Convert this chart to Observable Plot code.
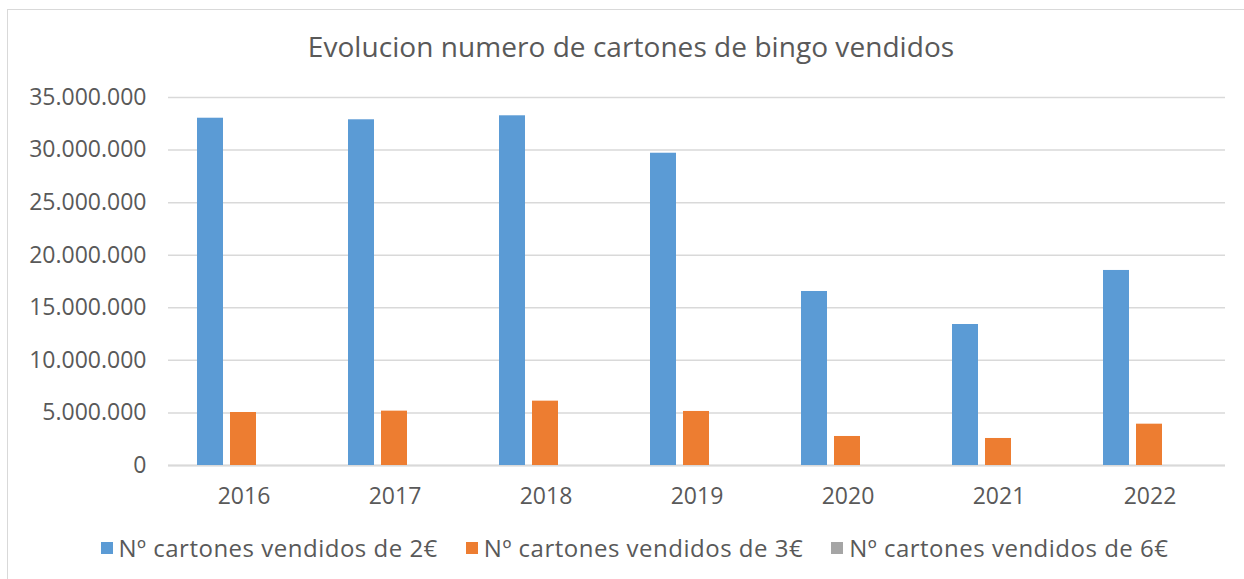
<!DOCTYPE html>
<html>
<head>
<meta charset="utf-8">
<script src="https://cdn.jsdelivr.net/npm/d3@7"></script>
<script src="https://cdn.jsdelivr.net/npm/@observablehq/plot@0.6"></script>
<style>
  html, body { margin: 0; padding: 0; background: #fff; width: 1244px; height: 579px; overflow: hidden; }
  body { font-family: "Open Sans", sans-serif; color: #595959; position: relative; }
  #frame { position: absolute; left: 7px; top: 9px; width: 1260px; height: 600px;
           border-left: 1.5px solid #d9d9d9; border-top: 1.5px solid #d9d9d9; }
  #title { position: absolute; left: 8px; width: 1246px; top: 32px; text-align: center;
           font-size: 28px; line-height: 28px; white-space: nowrap; letter-spacing: 0.05px; }
  #chart { position: absolute; left: 0; top: 70px; }
  #legend { position: absolute; left: 0; width: 1269px; top: 536px; display: flex; justify-content: center;
            align-items: center; font-size: 24px; line-height: 24px; white-space: nowrap; letter-spacing: 0.5px; }
  .item { display: flex; align-items: center; margin: 0 14px; }
  .sw { width: 12px; height: 12px; margin-right: 6px; }
</style>
</head>
<body>
<div id="frame"></div>
<div id="title">Evolucion numero de cartones de bingo vendidos</div>
<div id="chart"></div>
<div id="legend"></div>
<script>
const years = ["2016", "2017", "2018", "2019", "2020", "2021", "2022"];
const series = ["Nº cartones vendidos de 2€", "Nº cartones vendidos de 3€", "Nº cartones vendidos de 6€"];
const sold2 = [33030000, 32880000, 33260000, 29700000, 16550000, 13410000, 18550000];
const sold3 = [5040000, 5170000, 6120000, 5140000, 2760000, 2570000, 3930000];
const sold6 = [0, 0, 0, 0, 0, 0, 0];
const colors = ["#5b9bd5", "#ed7d31", "#a5a5a5"];
const yTicks = [0, 5000000, 10000000, 15000000, 20000000, 25000000, 30000000, 35000000];

const seriesValues = [sold2, sold3, sold6];
const data = [];
years.forEach((yr, i) => series.forEach((s, j) => data.push({year: yr, series: s, value: seriesValues[j][i]})));

const es = d3.formatLocale({decimal: ",", thousands: ".", grouping: [3], currency: ["", "€"]});
const fmt = es.format(",");

const chart = Plot.plot({
  width: 1244,
  height: 450,
  marginTop: 27,
  marginBottom: 55,
  marginLeft: 167,
  marginRight: 19,
  style: {fontFamily: "'Open Sans', sans-serif", color: "#595959", background: "transparent"},
  fx: {domain: years, padding: 0, label: null, axis: null},
  x: {domain: series, paddingInner: 0.2, paddingOuter: 0.8875, axis: null},
  y: {domain: [0, 35000000], axis: null},
  color: {domain: series, range: colors},
  marks: [
    Plot.gridY(yTicks, {stroke: "#d9d9d9", strokeOpacity: 1, strokeWidth: 1.5}),
    Plot.ruleY([0], {stroke: "#d9d9d9", strokeWidth: 2}),
    Plot.barY(data, {fx: "year", x: "series", y: "value", fill: "series"}),
    Plot.axisY(yTicks, {tickFormat: fmt, tickSize: 0, tickPadding: 22, fontSize: 23, label: null}),
    Plot.axisFx({anchor: "bottom", tickSize: 0, tickPadding: 22, fontSize: 23, label: null})
  ]
});
document.getElementById("chart").appendChild(chart);

const legend = document.getElementById("legend");
series.forEach((s, j) => {
  const it = document.createElement("div");
  it.className = "item";
  const sw = document.createElement("div");
  sw.className = "sw";
  sw.style.background = colors[j];
  const tx = document.createElement("span");
  tx.textContent = s;
  it.appendChild(sw);
  it.appendChild(tx);
  legend.appendChild(it);
});
</script>
</body>
</html>
